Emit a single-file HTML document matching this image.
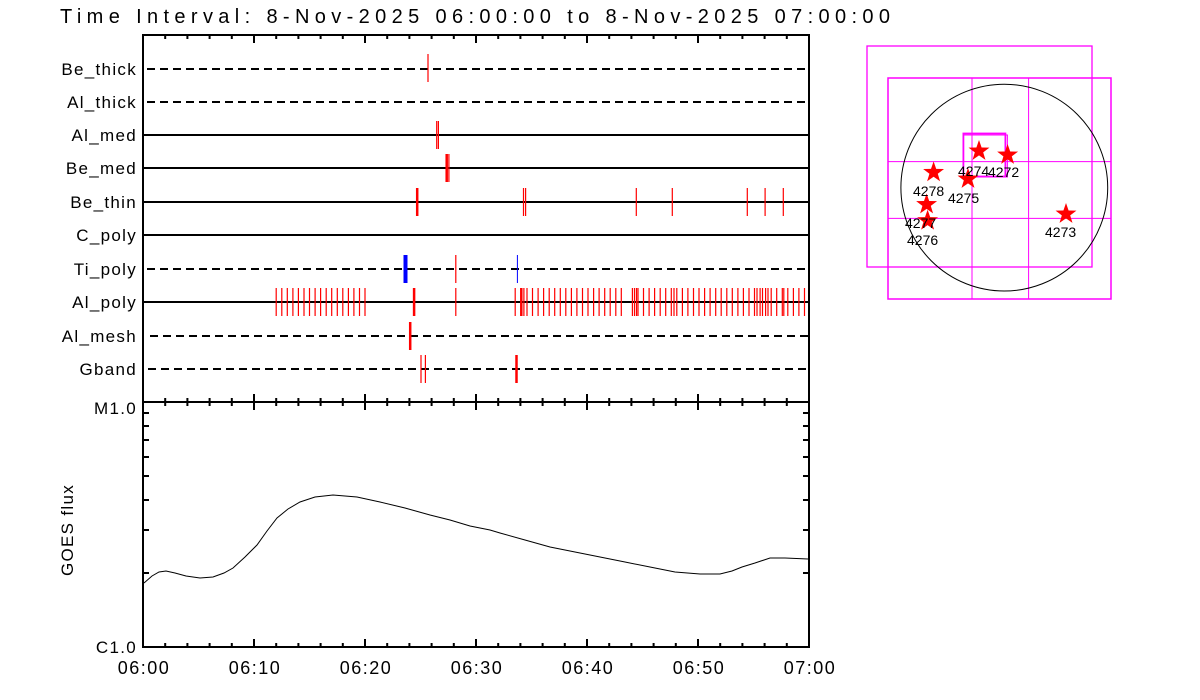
<!DOCTYPE html>
<html><head><meta charset="utf-8"><style>
html,body{margin:0;padding:0;background:#fff}
svg{display:block}
text{font-family:"Liberation Sans",sans-serif;fill:#000}
</style></head><body>
<svg width="1200" height="700" viewBox="0 0 1200 700" xmlns="http://www.w3.org/2000/svg">
<defs>
<polygon id="st" points="0,-11 2.59,-3.56 10.46,-3.4 4.18,1.36 6.47,8.9 0,4.4 -6.47,8.9 -4.18,1.36 -10.46,-3.4 -2.59,-3.56" fill="#f00"/>
</defs>
<text x="60" y="23" font-size="20" textLength="830" lengthAdjust="spacing">Time Interval:  8-Nov-2025 06:00:00 to  8-Nov-2025 07:00:00</text>

<g stroke="#000" stroke-width="2" fill="none">
<rect x="143" y="35" width="666" height="612"/>
<line x1="143" y1="402" x2="809" y2="402"/>
</g>
<g stroke="#000" stroke-width="2">
<line x1="147" y1="69" x2="809" y2="69" stroke-dasharray="8,5"/>
<line x1="147" y1="102" x2="809" y2="102" stroke-dasharray="8,5"/>
<line x1="143" y1="135" x2="809" y2="135"/>
<line x1="143" y1="168" x2="809" y2="168"/>
<line x1="143" y1="202" x2="809" y2="202"/>
<line x1="143" y1="235" x2="809" y2="235"/>
<line x1="147" y1="269" x2="809" y2="269" stroke-dasharray="8,5"/>
<line x1="143" y1="302" x2="809" y2="302"/>
<line x1="150" y1="336" x2="809" y2="336" stroke-dasharray="8,5"/>
<line x1="148" y1="369" x2="809" y2="369" stroke-dasharray="8,5"/>
</g>
<g font-size="17" text-anchor="end" style="letter-spacing:1.3px">
<text x="137" y="75">Be_thick</text>
<text x="137" y="108">Al_thick</text>
<text x="137" y="141">Al_med</text>
<text x="137" y="174">Be_med</text>
<text x="137" y="208">Be_thin</text>
<text x="137" y="241">C_poly</text>
<text x="137" y="275">Ti_poly</text>
<text x="137" y="308">Al_poly</text>
<text x="137" y="342">Al_mesh</text>
<text x="137" y="375">Gband</text>
</g>
<g stroke="#000" stroke-width="2">
<path d="M143 35v8M254 35v8M365 35v8M476 35v8M587 35v8M698 35v8M809 35v8
M165.2 35v4M187.4 35v4M209.6 35v4M231.8 35v4M276.2 35v4M298.4 35v4M320.6 35v4M342.8 35v4M387.2 35v4M409.4 35v4M431.6 35v4M453.8 35v4M498.2 35v4M520.4 35v4M542.6 35v4M564.8 35v4M609.2 35v4M631.4 35v4M653.6 35v4M675.8 35v4M720.2 35v4M742.4 35v4M764.6 35v4M786.8 35v4"/>
<path d="M143 394v16M254 394v16M365 394v16M476 394v16M587 394v16M698 394v16M809 394v16
M165.2 398v8M187.4 398v8M209.6 398v8M231.8 398v8M276.2 398v8M298.4 398v8M320.6 398v8M342.8 398v8M387.2 398v8M409.4 398v8M431.6 398v8M453.8 398v8M498.2 398v8M520.4 398v8M542.6 398v8M564.8 398v8M609.2 398v8M631.4 398v8M653.6 398v8M675.8 398v8M720.2 398v8M742.4 398v8M764.6 398v8M786.8 398v8"/>
<path d="M143 647v-8M254 647v-8M365 647v-8M476 647v-8M587 647v-8M698 647v-8M809 647v-8
M165.2 647v-4M187.4 647v-4M209.6 647v-4M231.8 647v-4M276.2 647v-4M298.4 647v-4M320.6 647v-4M342.8 647v-4M387.2 647v-4M409.4 647v-4M431.6 647v-4M453.8 647v-4M498.2 647v-4M520.4 647v-4M542.6 647v-4M564.8 647v-4M609.2 647v-4M631.4 647v-4M653.6 647v-4M675.8 647v-4M720.2 647v-4M742.4 647v-4M764.6 647v-4M786.8 647v-4"/>
<path d="M143 573h6M143 530h6M143 500h6M143 476h6M143 457h6M143 440h6M143 426h6M143 413h6
M809 573h-6M809 530h-6M809 500h-6M809 476h-6M809 457h-6M809 440h-6M809 426h-6M809 413h-6"/>
</g>
<g stroke="#f00" stroke-width="1.2">
<path d="M428 54v28M436.7 121v28M438.4 121v28M448.9 154v28
M523.5 188v28M525.6 188v28M636.3 188v28M672.3 188v28M747.3 188v28M765.1 188v28M783.3 188v28
M455.8 255v28M421 355v28M425.4 355v28
M276.2 288v28M281.8 288v28M287.3 288v28M292.9 288v28M298.4 288v28M304 288v28M309.5 288v28M315.1 288v28M320.6 288v28M326.2 288v28M331.7 288v28M337.3 288v28M342.8 288v28M348.4 288v28M353.9 288v28M359.5 288v28M365 288v28
M455.8 288v28M515.2 288v28M523.9 288v28M527 288v28M532.5 288v28M538.1 288v28M543.6 288v28M549.2 288v28M554.7 288v28M560.3 288v28M565.8 288v28M571.4 288v28M576.9 288v28M582.5 288v28M588 288v28M593.6 288v28M599.1 288v28M604.7 288v28M610.2 288v28M615.8 288v28M621.3 288v28
M632.4 288v28M634.5 288v28M636.5 288v28M638 288v28M643.5 288v28M649.1 288v28M654.6 288v28M660.2 288v28M665.7 288v28M671.3 288v28M674 288v28M676.8 288v28M682.4 288v28M687.9 288v28M693.5 288v28M699 288v28M704.6 288v28M710.1 288v28M715.7 288v28M721.2 288v28M726.8 288v28M732.3 288v28M737.9 288v28M743.4 288v28M749 288v28M754.5 288v28M757 288v28M760.1 288v28M762.5 288v28M765.6 288v28M768 288v28M771.2 288v28M776.7 288v28M782.3 288v28M783.8 288v28M787.8 288v28M793.4 288v28M798.9 288v28M804.5 288v28"/>
</g>
<g stroke="#f00" stroke-width="2.5">
<path d="M446.7 154v28M417.2 188v28M414.1 288v28M521.3 288v28M410.2 322v28M516.5 355v28"/>
</g>
<g stroke="#00f">
<path d="M405.5 255v28" stroke-width="4"/>
<path d="M517.4 255v28" stroke-width="1"/>
</g>

<polyline fill="none" stroke="#000" stroke-width="1" points="144,583 152,576 159,572 166,571 175,573 186,576 200,578 213,577 224,573 233,568 245,557 257,545 267,531 277,518 288,509 300,502 315,497 333,495 357,497 380,502 405,508 430,515 450,520 470,526 490,530 500,533 525,540 550,547 575,552 600,557 625,562 650,567 675,572 700,574 720,574 732,571 742,567 755,563 770,558 785,558 808,559"/>
<g font-size="17" style="letter-spacing:1.3px">
<text x="137" y="414" text-anchor="end">M1.0</text>
<text x="137" y="653" text-anchor="end">C1.0</text>
<text transform="translate(73,530) rotate(-90)" text-anchor="middle">GOES flux</text>
</g>
<g font-size="18" text-anchor="middle" style="letter-spacing:1.5px">
<text x="144" y="674">06:00</text>
<text x="255" y="674">06:10</text>
<text x="366" y="674">06:20</text>
<text x="477" y="674">06:30</text>
<text x="588" y="674">06:40</text>
<text x="699" y="674">06:50</text>
<text x="810" y="674">07:00</text>
</g>

<g fill="none" stroke="#f0f">
<rect x="867" y="46" width="225" height="221" stroke-width="1.3"/>
<rect x="888" y="78" width="223" height="221" stroke-width="1.5"/>
<line x1="972" y1="78" x2="972" y2="299"/>
<line x1="1028.6" y1="78" x2="1028.6" y2="299"/>
<line x1="888" y1="161.6" x2="1111" y2="161.6"/>
<line x1="888" y1="218.4" x2="1111" y2="218.4"/>
<rect x="963.4" y="133.5" width="42" height="43" stroke-width="1.8"/>
<rect x="963.4" y="135" width="44" height="42" stroke-width="1"/>
</g>
<circle cx="1004.3" cy="187.6" r="103.4" fill="none" stroke="#000" stroke-width="1"/>
<use href="#st" x="979" y="151"/>
<use href="#st" x="1007.6" y="155"/>
<use href="#st" x="933.6" y="172.4"/>
<use href="#st" x="968" y="179"/>
<use href="#st" x="926.6" y="204.5"/>
<use href="#st" x="927.6" y="220.7"/>
<use href="#st" x="1066" y="214"/>
<g font-size="14">
<text x="958" y="176">4274</text>
<text x="988" y="177">4272</text>
<text x="913" y="196">4278</text>
<text x="948" y="203">4275</text>
<text x="905" y="228">4277</text>
<text x="907" y="245">4276</text>
<text x="1045" y="237">4273</text>
</g>
</svg>
</body></html>
